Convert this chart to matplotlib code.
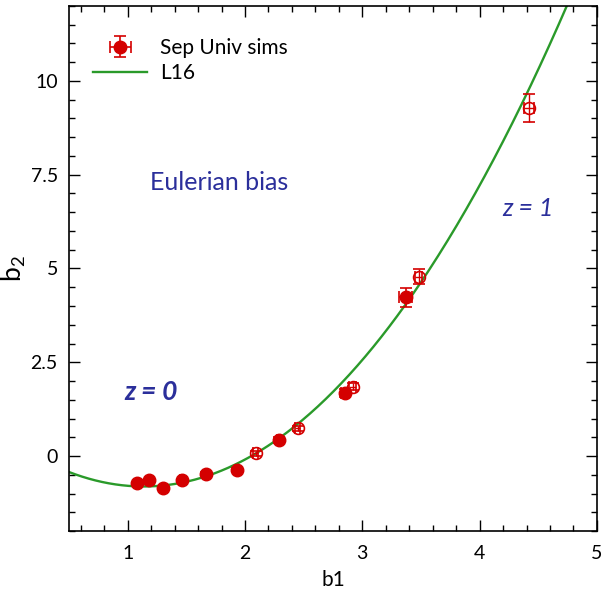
import numpy as np
import matplotlib
matplotlib.use("Agg")
import matplotlib.pyplot as plt
from matplotlib.ticker import MultipleLocator

plt.rcParams['font.family'] = ['Lato', 'DejaVu Sans']
plt.rcParams['mathtext.fontset'] = 'custom'
plt.rcParams['mathtext.rm'] = 'Lato'

# z = 0 separate universe measurements (filled)
b1_z0 = [1.08, 1.18, 1.30, 1.46, 1.67, 1.93, 2.29, 2.85, 3.37]
b2_z0 = [-0.71, -0.64, -0.85, -0.65, -0.47, -0.37, 0.43, 1.68, 4.23]
b1err_z0 = [0.01, 0.01, 0.01, 0.01, 0.01, 0.015, 0.02, 0.03, 0.057]
b2err_z0 = [0.03, 0.03, 0.03, 0.03, 0.04, 0.05, 0.07, 0.10, 0.26]

# z = 1 separate universe measurements (open)
b1_z1 = [2.09, 2.45, 2.92, 3.48, 4.42]
b2_z1 = [0.07, 0.74, 1.85, 4.78, 9.27]
b1err_z1 = [0.02, 0.02, 0.03, 0.03, 0.04]
b2err_z1 = [0.06, 0.07, 0.10, 0.20, 0.37]

# L16 fitting formula: b2 = c0 + c1 b1 + c2 b1^2 + c3 b1^3
l16_coeffs = [0.412, -2.143, 0.929, 0.008]

red = '#d40000'
green = '#2a9a2a'
blue = '#2b2f9b'

fig = plt.figure(figsize=(6.02, 5.96), dpi=100)
ax = fig.add_axes([0.1146, 0.109, 0.877, 0.881])

b1_grid = np.linspace(0.5, 5.0, 400)
b2_l16 = sum(c * b1_grid**i for i, c in enumerate(l16_coeffs))

sims = ax.errorbar(b1_z0, b2_z0, xerr=b1err_z0, yerr=b2err_z0, fmt='o', color=red,
                   ms=9, capsize=4, elinewidth=1.2, capthick=1.2, zorder=3)
ax.errorbar(b1_z1, b2_z1, xerr=b1err_z1, yerr=b2err_z1, fmt='o', color=red,
            mfc='none', mec=red, mew=1.2, ms=8.5, capsize=4, elinewidth=1.0,
            capthick=1.0, zorder=3)
l16, = ax.plot(b1_grid, b2_l16, color=green, lw=1.7, zorder=2)

ax.set_xlim(0.5, 5)
ax.set_ylim(-2, 12)
ax.xaxis.set_major_locator(MultipleLocator(1))
ax.xaxis.set_minor_locator(MultipleLocator(0.2))
ax.yaxis.set_minor_locator(MultipleLocator(0.5))
ax.set_yticks([0, 2.5, 5, 7.5, 10])
ax.set_yticklabels(['0', '2.5', '5', '7.5', '10'])
ax.tick_params(which='both', direction='in', top=True, right=True, labelsize=14)
ax.tick_params(which='major', length=8, width=1)
ax.tick_params(which='minor', length=4, width=1)
ax.tick_params(axis='x', pad=10)
ax.tick_params(axis='y', pad=8)
for s in ax.spines.values():
    s.set_linewidth(1.2)

ax.set_xlabel('b1', fontsize=15, labelpad=6)
ax.set_ylabel('b$_2$', fontsize=19, labelpad=2)

ax.text(1.78, 7.3, 'Eulerian bias', color=blue, fontsize=18, ha='center', va='center')
ax.text(4.41, 6.6, 'z = 1', color=blue, fontsize=18, style='italic', ha='center', va='center')
ax.text(1.2, 1.7, 'z = 0', color=blue, fontsize=19, style='italic', weight='bold',
        ha='center', va='center')

ax.legend([sims, l16], ['Sep Univ sims', 'L16'], loc='upper left', frameon=False,
          fontsize=15, handlelength=2.6, bbox_to_anchor=(0.03, 0.955),
          borderaxespad=0, labelspacing=0.25, handletextpad=0.6)

fig.savefig('out.png', dpi=100)
